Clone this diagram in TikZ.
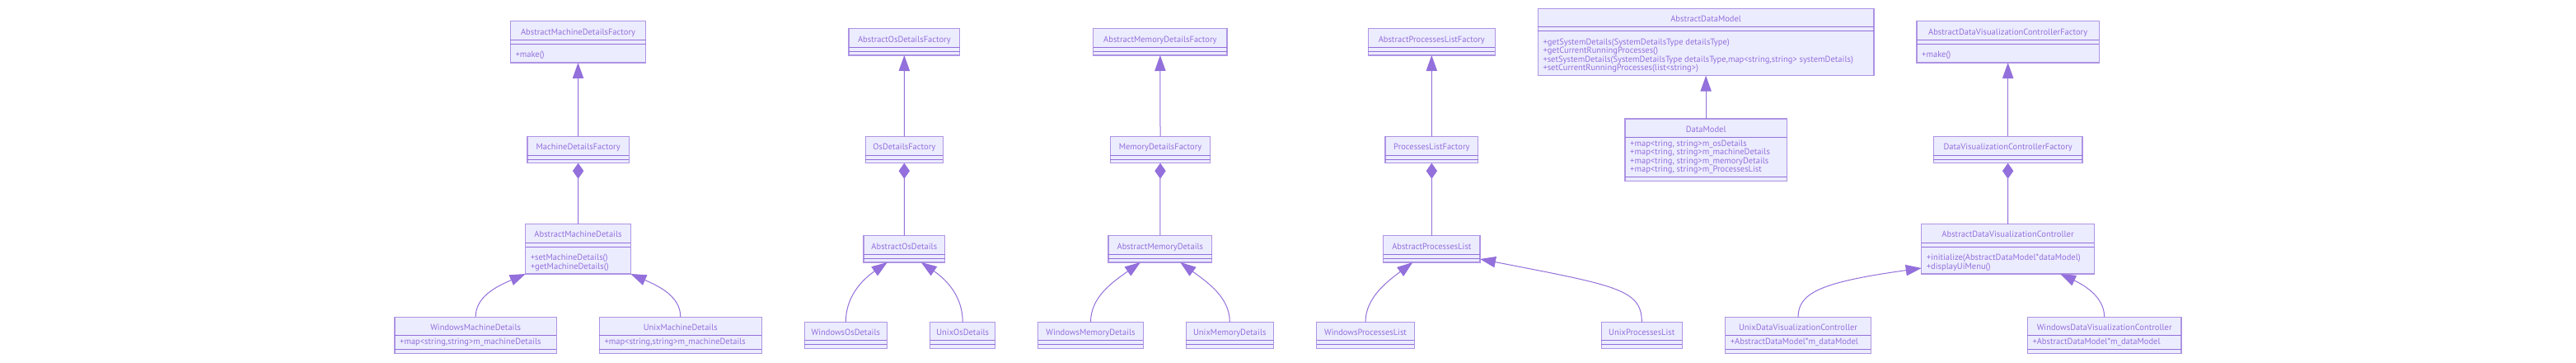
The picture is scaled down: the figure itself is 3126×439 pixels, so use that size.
\documentclass[tikz,border=0pt]{standalone}
\usepackage{fontspec}
\newfontfamily\umlfont{PT Sans}
\usetikzlibrary{arrows.meta,fit}
\definecolor{mp}{HTML}{9370DB}
\definecolor{boxfill}{HTML}{ECECFF}
\colorlet{bd}{mp!75!white}
\tikzset{
  clsbox/.style={draw=bd, fill=boxfill, line width=1.2pt, inner sep=0pt, outer sep=0pt, rectangle},
  ttl/.style={anchor=base, inner sep=0pt, text=mp, font=\umlfont\fontsize{10.5}{11}\selectfont, yshift=-3.5pt},
  mem/.style={anchor=base west, inner sep=0pt, text=mp, font=\umlfont\fontsize{10.5}{11}\selectfont, xshift=6pt, yshift=-3.3pt},
  sepl/.style={draw=mp, line width=1pt},
  inh/.style={draw=mp, line width=1pt, -{Triangle[length=19pt,width=13.3pt]}},
  comp/.style={draw=mp, line width=1pt, -{Diamond[length=19pt,width=13.3pt]}}
}
\newcommand\cls[7]{%
  \node[clsbox, fit={(#2,#3) (#4,#5)}] (#1) {};
  \node[ttl] (#1-t) at (#1.north |- 0,#7) {#6};
}
\newcommand\sepline[2]{\draw[sepl] (#1.west |- 0,#2) -- (#1.east |- 0,#2);}
\newcommand\member[3]{\node[mem] at (#1.west |- 0,#2) {#3};}
\begin{document}
\begin{tikzpicture}[x=1pt,y=-1pt]
\fill[white] (0,0) rectangle (3126,439);
\useasboundingbox (0,0) rectangle (3126,439);

% Machine column
\cls{amdf}{619.3}{25.7}{783.7}{76}{AbstractMachineDetailsFactory}{38.7}
\sepline{amdf}{48.7}\sepline{amdf}{53.7}
\member{amdf}{65.7}{+make()}
\cls{mdf}{640}{165.3}{763.3}{197.7}{MachineDetailsFactory}{177.7}
\sepline{mdf}{188.3}\sepline{mdf}{193.3}
\cls{amd}{637.7}{271.7}{765.3}{332}{AbstractMachineDetails}{284.3}
\sepline{amd}{294.3}\sepline{amd}{299.3}
\member{amd}{311.7}{+setMachineDetails()}
\member{amd}{322.7}{+getMachineDetails()}
\cls{wmd}{479}{384.3}{675.3}{428.3}{WindowsMachineDetails}{396.7}
\sepline{wmd}{406.7}\sepline{wmd}{423.3}
\member{wmd}{413.7}{+map<string,string>m\_machineDetails}
\cls{umd}{727.3}{384.3}{924.3}{428.3}{UnixMachineDetails}{396.7}
\sepline{umd}{406.7}\sepline{umd}{423.3}
\member{umd}{413.7}{+map<string,string>m\_machineDetails}

% Os column
\cls{aodf}{1030}{34.7}{1164.7}{67}{AbstractOsDetailsFactory}{47.7}
\sepline{aodf}{57.3}\sepline{aodf}{62.3}
\cls{odf}{1050.3}{165.3}{1144.3}{197.7}{OsDetailsFactory}{177.7}
\sepline{odf}{188.3}\sepline{odf}{193.3}
\cls{aod}{1048}{285.7}{1146.7}{318}{AbstractOsDetails}{298.7}
\sepline{aod}{308.7}\sepline{aod}{313.7}
\cls{wod}{976.3}{390.3}{1076.3}{422.3}{WindowsOsDetails}{402.7}
\sepline{wod}{412.7}\sepline{wod}{417.7}
\cls{uod}{1128.7}{390.3}{1207.7}{422.3}{UnixOsDetails}{402.7}
\sepline{uod}{412.7}\sepline{uod}{417.7}

% Memory column
\cls{amemdf}{1326.7}{34.7}{1489}{67}{AbstractMemoryDetailsFactory}{47.7}
\sepline{amemdf}{57.3}\sepline{amemdf}{62.3}
\cls{memdf}{1347.3}{165.3}{1468.7}{197.7}{MemoryDetailsFactory}{177.7}
\sepline{memdf}{188.3}\sepline{memdf}{193.3}
\cls{amemd}{1345}{285.7}{1470.7}{318}{AbstractMemoryDetails}{298.7}
\sepline{amemd}{308.7}\sepline{amemd}{313.7}
\cls{wmemd}{1259.7}{390.3}{1387.3}{422.3}{WindowsMemoryDetails}{402.7}
\sepline{wmemd}{412.7}\sepline{wmemd}{417.7}
\cls{umemd}{1439.3}{390.3}{1545.3}{422.3}{UnixMemoryDetails}{402.7}
\sepline{umemd}{412.7}\sepline{umemd}{417.7}

% Processes column
\cls{aplf}{1660.3}{34.7}{1814.3}{67}{AbstractProcessesListFactory}{47.7}
\sepline{aplf}{57.3}\sepline{aplf}{62.3}
\cls{plf}{1681}{165.3}{1793.7}{197.7}{ProcessesListFactory}{177.7}
\sepline{plf}{188.3}\sepline{plf}{193.3}
\cls{apl}{1678.7}{285.7}{1796}{318}{AbstractProcessesList}{298.7}
\sepline{apl}{308.7}\sepline{apl}{313.7}
\cls{wpl}{1597.7}{390.3}{1716.3}{422.3}{WindowsProcessesList}{402.7}
\sepline{wpl}{412.7}\sepline{wpl}{417.7}
\cls{upl}{1943.3}{390.3}{2041.3}{422.3}{UnixProcessesList}{402.7}
\sepline{upl}{412.7}\sepline{upl}{417.7}

% Data model
\cls{adm}{1866.3}{10.3}{2274}{91.7}{AbstractDataModel}{22.7}
\sepline{adm}{32.7}\sepline{adm}{37.7}
\member{adm}{51}{+getSystemDetails(SystemDetailsType detailsType)}
\member{adm}{61.3}{+getCurrentRunningProcesses()}
\member{adm}{71.7}{+setSystemDetails(SystemDetailsType detailsType,map<string,string> systemDetails)}
\member{adm}{82}{+setCurrentRunningProcesses(list<string>)}
\cls{dm}{1972}{144}{2168.3}{219.3}{DataModel}{156.7}
\sepline{dm}{166}\sepline{dm}{214.3}
\member{dm}{173.7}{+map<tring, string>m\_osDetails}
\member{dm}{183.7}{+map<tring, string>m\_machineDetails}
\member{dm}{194.7}{+map<tring, string>m\_memoryDetails}
\member{dm}{204.7}{+map<tring, string>m\_ProcessesList}

% Data visualization column
\cls{advcf}{2326}{25.7}{2547.3}{76}{AbstractDataVisualizationControllerFactory}{38.7}
\sepline{advcf}{48.7}\sepline{advcf}{53.7}
\member{advcf}{65.7}{+make()}
\cls{dvcf}{2346.3}{165.3}{2527}{197.7}{DataVisualizationControllerFactory}{177.7}
\sepline{dvcf}{188.3}\sepline{dvcf}{193.3}
\cls{advc}{2331.7}{271.7}{2541.3}{332}{AbstractDataVisualizationController}{284.3}
\sepline{advc}{294.3}\sepline{advc}{299.3}
\member{advc}{311.7}{+initialize(AbstractDataModel*dataModel)}
\member{advc}{322.7}{+displayUiMenu()}
\cls{wdvc}{2460.3}{384.3}{2647}{428.3}{WindowsDataVisualizationController}{396.7}
\sepline{wdvc}{406.7}\sepline{wdvc}{423.3}
\member{wdvc}{413.7}{+AbstractDataModel*m\_dataModel}
\cls{udvc}{2093.7}{384.7}{2270.3}{428.3}{UnixDataVisualizationController}{396.7}
\sepline{udvc}{406.7}\sepline{udvc}{423.3}
\member{udvc}{413.7}{+AbstractDataModel*m\_dataModel}

% Connectors: factories
\draw[inh] (mdf.north) -- (amdf.south);
\draw[comp] (amd.north) -- (mdf.south);
\draw[inh] (odf.north) -- (aodf.south);
\draw[comp] (aod.north) -- (odf.south);
\draw[inh] (memdf.north) -- (amemdf.south);
\draw[comp] (amemd.north) -- (memdf.south);
\draw[inh] (plf.north) -- (aplf.south);
\draw[comp] (apl.north) -- (plf.south);
\draw[inh] (dm.north) -- (adm.south);
\draw[inh] (dvcf.north) -- (advcf.south);
\draw[comp] (advc.north) -- (dvcf.south);

% Connectors: implementations
\draw[inh] (wmd.north) .. controls +(0,-24) and +(-37,16) .. (amd.south west);
\draw[inh] (umd.north) .. controls +(0,-24) and +(37,16) .. (amd.south east);
\draw[inh] (wod.north) .. controls +(0,-30) and +(-31.7,22) .. ([xshift=-20.6pt]aod.south);
\draw[inh] (uod.north) .. controls +(0,-30) and +(32.3,22) .. ([xshift=20.4pt]aod.south);
\draw[inh] (wmemd.north) .. controls +(0,-30) and +(-34,24) .. ([xshift=-23.9pt]amemd.south);
\draw[inh] (umemd.north) .. controls +(0,-30) and +(32.7,24) .. ([xshift=24.4pt]amemd.south);
\draw[inh] (wpl.north) .. controls +(0,-30) and +(-29.3,22) .. ([xshift=-23pt]apl.south);
\draw[inh] (upl.north) .. controls +(0,-40) and +(164,32) .. ([yshift=4pt]apl.south east);
\draw[inh] (udvc.north) .. controls +(0,-30) and +(-121.7,17) .. ([yshift=7pt]advc.south west);
\draw[inh] (wdvc.north) .. controls +(0,-24) and +(30,14) .. ([xshift=63.5pt]advc.south);
\end{tikzpicture}
\end{document}
